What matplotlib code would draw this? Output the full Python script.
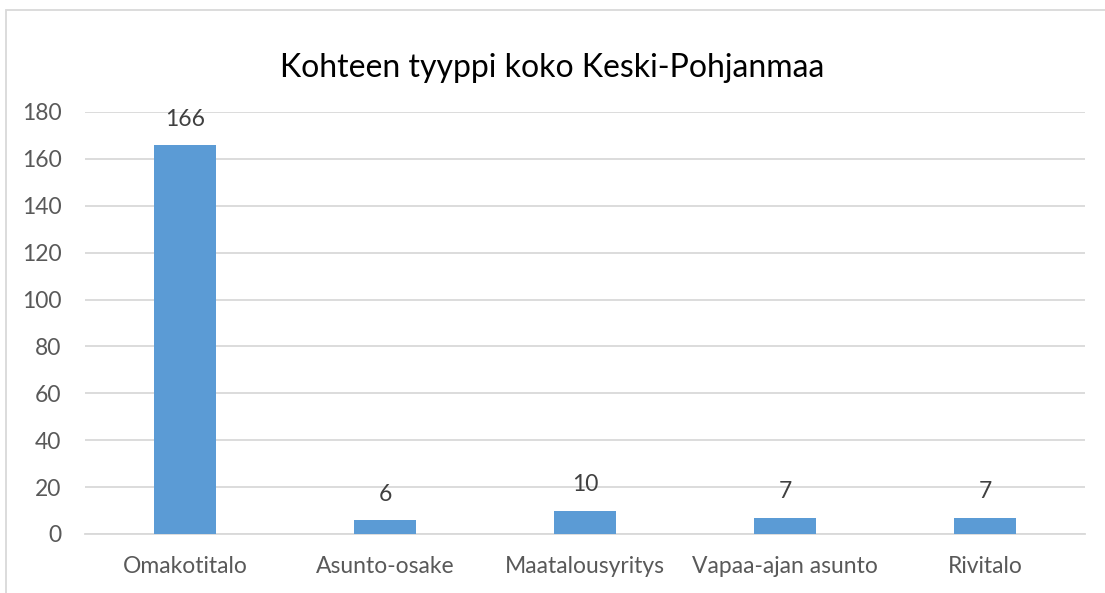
import matplotlib.pyplot as plt
from matplotlib.patches import Rectangle

kategoriat = ['Omakotitalo', 'Asunto-osake', 'Maatalousyritys', 'Vapaa-ajan asunto', 'Rivitalo']
maarat = [166, 6, 10, 7, 7]
y_tikit = [0, 20, 40, 60, 80, 100, 120, 140, 160, 180]

plt.rcParams['font.family'] = ['Lato', 'DejaVu Sans']

fig = plt.figure(figsize=(11.05, 5.93), dpi=100)
ax = fig.add_axes([85 / 1105, 1 - 534 / 593, 1000 / 1105, (534 - 112) / 593])

x = range(len(kategoriat))
palkit = ax.bar(x, maarat, width=0.31, color='#5B9BD5', zorder=3)
for p, v in zip(palkit, maarat):
    ax.annotate(str(v), (p.get_x() + p.get_width() / 2, v), xytext=(0, 11),
                textcoords='offset points', ha='center', va='bottom',
                fontsize=16.5, color='#404040')

ax.set_xlim(-0.5, len(kategoriat) - 0.5)
ax.set_ylim(0, 180)
ax.set_yticks(y_tikit)
ax.set_xticks(list(x))
ax.set_xticklabels(kategoriat)
ax.grid(axis='y', color='#D9D9D9', linewidth=1.3, zorder=0)
for s in ['top', 'right', 'left']:
    ax.spines[s].set_visible(False)
ax.spines['bottom'].set_color('#D9D9D9')
ax.spines['bottom'].set_linewidth(1.3)
ax.tick_params(length=0, labelsize=16.5, colors='#595959')
ax.tick_params(axis='x', pad=16)
ax.tick_params(axis='y', pad=17)

fig.text(0.5, 1 - 68 / 593, 'Kohteen tyyppi koko Keski-Pohjanmaa', ha='center', va='center',
         fontsize=23, color='#000000')

fig.patches.append(Rectangle((6 / 1105, -0.1), 1.2, 1 - 10 / 593 + 0.1, transform=fig.transFigure,
                             fill=False, edgecolor='#D9D9D9', linewidth=1.3))

plt.savefig('out.png', dpi=100)
